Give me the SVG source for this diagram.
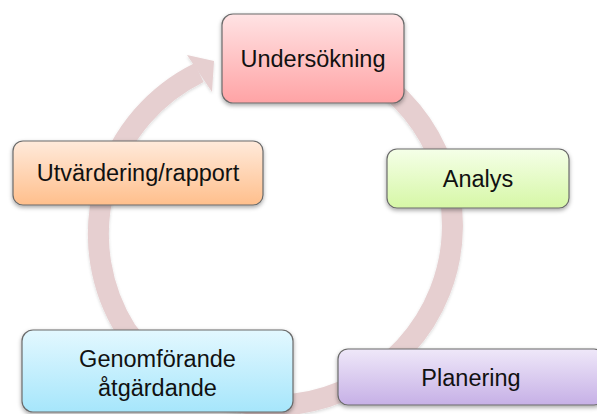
<svg xmlns="http://www.w3.org/2000/svg" width="597" height="414" viewBox="0 0 597 414">
<defs>
<linearGradient id="gPink" x1="0" y1="0" x2="0" y2="1"><stop offset="0" stop-color="#ffe3e4"/><stop offset="1" stop-color="#ffa3a5"/></linearGradient>
<linearGradient id="gGreen" x1="0" y1="0" x2="0" y2="1"><stop offset="0" stop-color="#f5ffe8"/><stop offset="1" stop-color="#d6f7a6"/></linearGradient>
<linearGradient id="gOrange" x1="0" y1="0" x2="0" y2="1"><stop offset="0" stop-color="#ffeadb"/><stop offset="1" stop-color="#ffbf8c"/></linearGradient>
<linearGradient id="gBlue" x1="0" y1="0" x2="0" y2="1"><stop offset="0" stop-color="#e3f8ff"/><stop offset="1" stop-color="#a6e6fb"/></linearGradient>
<linearGradient id="gPurple" x1="0" y1="0" x2="0" y2="1"><stop offset="0" stop-color="#efe8f9"/><stop offset="1" stop-color="#c6b0e6"/></linearGradient>
<filter id="sh" x="-10%" y="-10%" width="120%" height="130%"><feDropShadow dx="0" dy="2" stdDeviation="2" flood-color="#000" flood-opacity="0.35"/></filter>
<filter id="sh2" x="-10%" y="-10%" width="120%" height="120%"><feDropShadow dx="0" dy="1.5" stdDeviation="1.5" flood-color="#000" flood-opacity="0.15"/></filter>
</defs>
<style>
.box{stroke:#6b6b6b;stroke-width:1.2;filter:url(#sh)}
.lbl{font-family:"Liberation Sans",Arial,sans-serif;font-size:23.5px;fill:#111;text-anchor:middle}
</style>
<g id="connectors" filter="url(#sh2)">
<path d="M 236.9 48.9 A 180 180 0 1 1 126 330 A 180 180 0 0 1 199 72.6" fill="none" stroke="#e6cfd0" stroke-width="21"/>
<polygon points="187,55 214,61 212,92" fill="#e6cfd0"/>
</g>
<g id="undersokning"><rect class="box" x="222" y="14" width="182" height="89" rx="11" fill="url(#gPink)"/><text class="lbl" x="313" y="67">Undersökning</text></g>
<g id="analys"><rect class="box" x="387" y="149" width="182" height="59" rx="10" fill="url(#gGreen)"/><text class="lbl" x="478" y="187">Analys</text></g>
<g id="planering"><rect class="box" x="338" y="349" width="266" height="56" rx="10" fill="url(#gPurple)"/><text class="lbl" x="471" y="386">Planering</text></g>
<g id="genomforande"><rect class="box" x="22" y="330" width="271" height="82" rx="11" fill="url(#gBlue)"/><text class="lbl" x="157.5" y="367">Genomförande</text><text class="lbl" x="157.5" y="396">åtgärdande</text></g>
<g id="utvardering"><rect class="box" x="13" y="141" width="250" height="64" rx="10" fill="url(#gOrange)"/><text class="lbl" x="138" y="181">Utvärdering/rapport</text></g>
</svg>
